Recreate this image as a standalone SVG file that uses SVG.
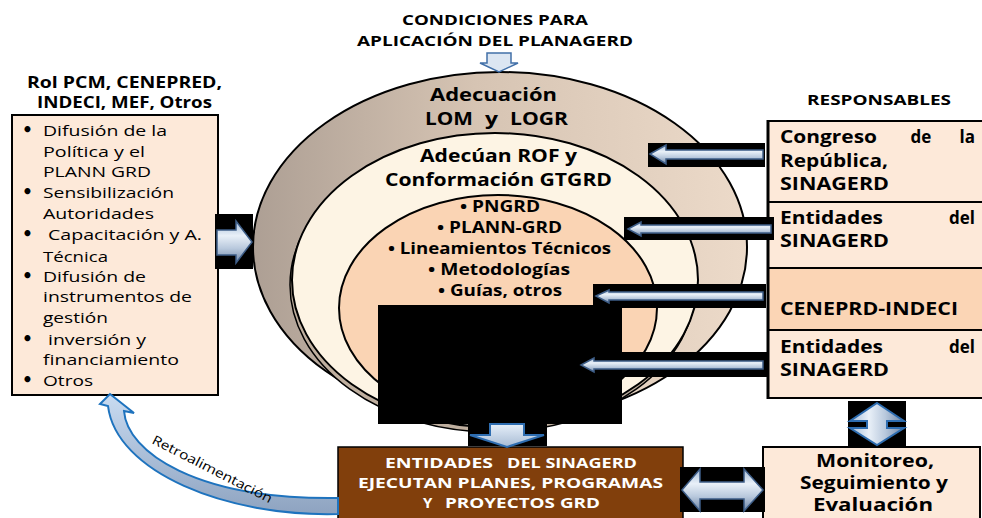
<svg xmlns="http://www.w3.org/2000/svg" width="982" height="518" viewBox="0 0 982 518">
<style>
.t{font-family:"Open Sans","Liberation Sans",sans-serif;fill:#000}
.b{font-weight:700}
.w{fill:#fff}
.box{fill:#FDE9D9;stroke:#000;stroke-width:2}
.blk{fill:#000}
.bul{font-family:"DejaVu Sans",sans-serif;font-size:17px;font-weight:700;fill:#000}
.arr{fill:url(#gH);stroke:#3E5E88;stroke-width:1.5;stroke-linejoin:miter}
.arrv{fill:url(#gV);stroke:#2E6DB0;stroke-width:2}
.el{stroke:#000;stroke-width:2}
</style>
<defs>
<linearGradient id="gOuter" x1="0" y1="0" x2="1" y2="0">
<stop offset="0" stop-color="#AD9F94"/><stop offset="0.45" stop-color="#D6C4B3"/><stop offset="1" stop-color="#ECDAC9"/>
</linearGradient>
<linearGradient id="gH" x1="0" y1="0" x2="0" y2="1">
<stop offset="0" stop-color="#A3BBD8"/><stop offset="0.35" stop-color="#E9F0F8"/><stop offset="0.65" stop-color="#B9C9DD"/><stop offset="1" stop-color="#6E86A6"/>
</linearGradient>
<linearGradient id="gV" x1="0" y1="0" x2="1" y2="0">
<stop offset="0" stop-color="#A3BBD8"/><stop offset="0.35" stop-color="#E9F0F8"/><stop offset="0.65" stop-color="#B9C9DD"/><stop offset="1" stop-color="#6E86A6"/>
</linearGradient>
<linearGradient id="gDown" x1="0" y1="0" x2="0" y2="1">
<stop offset="0" stop-color="#E6EFF9"/><stop offset="1" stop-color="#A7BBD4"/>
</linearGradient>
<linearGradient id="gRetro" x1="0" y1="0" x2="0" y2="1">
<stop offset="0" stop-color="#C9DBF1"/><stop offset="1" stop-color="#8EA3C0"/>
</linearGradient>
</defs>

<!-- top title -->
<g id="title">
<text class="t b" font-size="15" x="402" y="25" textLength="186" lengthAdjust="spacingAndGlyphs">CONDICIONES PARA</text>
<text class="t b" font-size="15" x="357" y="46" textLength="276" lengthAdjust="spacingAndGlyphs">APLICACIÓN DEL PLANAGERD</text>
</g>

<!-- nested ellipses -->
<g id="ellipses">
<ellipse class="el" cx="500" cy="247" rx="247" ry="175" fill="url(#gOuter)"/>
<ellipse cx="493" cy="285" rx="203" ry="147" fill="#BFAF9F" stroke="#000" stroke-width="1.5"/>
<ellipse class="el" cx="495" cy="280" rx="203" ry="147" fill="#FDF4E4"/>
<ellipse class="el" cx="498" cy="308" rx="159" ry="113" fill="#FAD4B4"/>
<text class="t b" font-size="17" x="430" y="101" textLength="127" lengthAdjust="spacingAndGlyphs">Adecuación</text>
<text class="t b" font-size="17" x="425" y="125" textLength="48" lengthAdjust="spacingAndGlyphs">LOM</text>
<text class="t b" font-size="17" x="485" y="125" textLength="13" lengthAdjust="spacingAndGlyphs">y</text>
<text class="t b" font-size="17" x="510" y="125" textLength="58" lengthAdjust="spacingAndGlyphs">LOGR</text>
<text class="t b" font-size="17" x="420" y="162" textLength="157" lengthAdjust="spacingAndGlyphs">Adecúan ROF y</text>
<text class="t b" font-size="17" x="385" y="186" textLength="227" lengthAdjust="spacingAndGlyphs">Conformación GTGRD</text>
<text class="t b" font-size="15.5" x="460" y="212" textLength="80" lengthAdjust="spacingAndGlyphs">• PNGRD</text>
<text class="t b" font-size="15.5" x="437" y="233" textLength="125" lengthAdjust="spacingAndGlyphs">• PLANN-GRD</text>
<text class="t b" font-size="15.5" x="388" y="254" textLength="223" lengthAdjust="spacingAndGlyphs">• Lineamientos Técnicos</text>
<text class="t b" font-size="15.5" x="428" y="275" textLength="142" lengthAdjust="spacingAndGlyphs">• Metodologías</text>
<text class="t b" font-size="15.5" x="438" y="296" textLength="124" lengthAdjust="spacingAndGlyphs">• Guías, otros</text>
</g>

<!-- left box -->
<g id="rol">
<text class="t b" font-size="16" x="27" y="88" textLength="195" lengthAdjust="spacingAndGlyphs">Rol PCM, CENEPRED,</text>
<text class="t b" font-size="16" x="37" y="108" textLength="175" lengthAdjust="spacingAndGlyphs">INDECI, MEF, Otros</text>
<rect class="box" x="12" y="115" width="206" height="280" stroke-width="2.5"/>
<g class="bul">
<text x="22" y="136">•</text>
<text x="22" y="198">•</text>
<text x="22" y="240">•</text>
<text x="22" y="282">•</text>
<text x="22" y="345">•</text>
<text x="22" y="386">•</text>
</g>
<g class="t" font-size="15">
<text x="43" y="136" textLength="124" lengthAdjust="spacingAndGlyphs">Difusión de la</text>
<text x="43" y="157" textLength="102" lengthAdjust="spacingAndGlyphs">Política y el</text>
<text x="43" y="177" textLength="108" lengthAdjust="spacingAndGlyphs">PLANN GRD</text>
<text x="43" y="198" textLength="131" lengthAdjust="spacingAndGlyphs">Sensibilización</text>
<text x="43" y="219" textLength="111" lengthAdjust="spacingAndGlyphs">Autoridades</text>
<text x="48" y="240" textLength="154" lengthAdjust="spacingAndGlyphs">Capacitación y A.</text>
<text x="43" y="262" textLength="65" lengthAdjust="spacingAndGlyphs">Técnica</text>
<text x="43" y="282" textLength="103" lengthAdjust="spacingAndGlyphs">Difusión de</text>
<text x="43" y="302" textLength="149" lengthAdjust="spacingAndGlyphs">instrumentos de</text>
<text x="43" y="323" textLength="65" lengthAdjust="spacingAndGlyphs">gestión</text>
<text x="48" y="345" textLength="98" lengthAdjust="spacingAndGlyphs">inversión y</text>
<text x="43" y="365" textLength="136" lengthAdjust="spacingAndGlyphs">financiamiento</text>
<text x="43" y="386" textLength="50" lengthAdjust="spacingAndGlyphs">Otros</text>
</g>
</g>

<!-- right column -->
<g id="responsables">
<text class="t b" font-size="14.5" x="807" y="105" textLength="144" lengthAdjust="spacingAndGlyphs">RESPONSABLES</text>
<rect x="768" y="121" width="230" height="81" fill="#FDE9D9" stroke="#000" stroke-width="2"/>
<rect x="768" y="202" width="230" height="66" fill="#FDE9D9" stroke="#000" stroke-width="2"/>
<rect x="768" y="268" width="230" height="62" fill="#FBD5B5" stroke="#000" stroke-width="2"/>
<rect x="768" y="330" width="230" height="68" fill="#FDE9D9" stroke="#000" stroke-width="2"/>
<line x1="768" y1="120" x2="768" y2="399" stroke="#000" stroke-width="3"/>
<g class="t b" font-size="17">
<text x="780" y="143" textLength="97" lengthAdjust="spacingAndGlyphs">Congreso</text>
<text x="921" y="143" text-anchor="middle">de</text>
<text x="975" y="143" text-anchor="end">la</text>
<text x="780" y="167" textLength="108" lengthAdjust="spacingAndGlyphs">República,</text>
<text x="780" y="190" textLength="109" lengthAdjust="spacingAndGlyphs">SINAGERD</text>
<text x="780" y="224" textLength="103" lengthAdjust="spacingAndGlyphs">Entidades</text>
<text x="975" y="224" text-anchor="end">del</text>
<text x="780" y="247" textLength="109" lengthAdjust="spacingAndGlyphs">SINAGERD</text>
<text x="780" y="315" textLength="178" lengthAdjust="spacingAndGlyphs">CENEPRD-INDECI</text>
<text x="780" y="353" textLength="103" lengthAdjust="spacingAndGlyphs">Entidades</text>
<text x="975" y="353" text-anchor="end">del</text>
<text x="780" y="376" textLength="109" lengthAdjust="spacingAndGlyphs">SINAGERD</text>
</g>
</g>

<!-- executing entities -->
<g id="entidades">
<rect x="338" y="447" width="345" height="80" fill="#813F0C" stroke="#000" stroke-width="1.5"/>
<g class="t b w" font-size="15">
<text x="385" y="468" textLength="108" lengthAdjust="spacingAndGlyphs">ENTIDADES</text>
<text x="507" y="468" textLength="130" lengthAdjust="spacingAndGlyphs">DEL SINAGERD</text>
<text x="358" y="488" textLength="305" lengthAdjust="spacingAndGlyphs">EJECUTAN PLANES, PROGRAMAS</text>
<text x="423" y="508">Y</text>
<text x="445" y="508" textLength="155" lengthAdjust="spacingAndGlyphs">PROYECTOS GRD</text>
</g>
</g>

<!-- monitoring -->
<g id="monitoreo">
<rect class="box" x="763" y="447" width="217" height="80"/>
<g class="t b" font-size="17">
<text x="816" y="467" textLength="118" lengthAdjust="spacingAndGlyphs">Monitoreo,</text>
<text x="800" y="489" textLength="148" lengthAdjust="spacingAndGlyphs">Seguimiento y</text>
<text x="813" y="511" textLength="120" lengthAdjust="spacingAndGlyphs">Evaluación</text>
</g>
</g>

<!-- connectors -->
<g id="connectors">
<polygon points="487,53 511,53 511,63 518,63 499,72 480,63 487,63" fill="#DCE6F2" stroke="#4270A8" stroke-width="1.5"/>

<rect class="blk" x="215" y="214" width="38" height="55"/>
<polygon class="arr" points="217,230 236,230 236,221 252,242 236,263 236,255 217,255" stroke="#2C3E5C" stroke-width="2"/>

<rect class="blk" x="648" y="143" width="117" height="24"/>
<polygon class="arr" points="650,154 666,145 666,150 763,150 763,159 666,159 666,164" stroke="#2468B4" stroke-width="2"/>

<rect class="blk" x="624" y="217" width="150" height="23"/>
<polygon class="arr" points="628,229 641,222 641,225 771,225 771,233 641,233 641,236"/>

<rect class="blk" x="593" y="284" width="173" height="24"/>
<polygon class="arr" points="596,296 609,290 609,292 763,292 763,300 609,300 609,303"/>

<rect class="blk" x="378" y="305" width="244" height="119"/>
<rect class="blk" x="578" y="352" width="189" height="25"/>
<polygon class="arr" points="581,365 594,358 594,361 763,361 763,369 594,369 594,372"/>

<rect class="blk" x="468" y="424" width="79" height="22"/>
<polygon points="490,424 524,424 524,435 544,435 507,447 470,435 490,435" fill="url(#gDown)" stroke="#2E6DB0" stroke-width="2"/>

<rect class="blk" x="680" y="467" width="85" height="45"/>
<polygon class="arr" points="682,490 700,469 700,482 744,482 744,469 763,490 744,511 744,499 700,499 700,511" stroke="#2E6DB0" stroke-width="2"/>

<rect class="blk" x="848" y="401" width="58" height="45"/>
<polygon class="arrv" points="877,403 904,421 887,421 887,428 904,428 877,445 850,428 867,428 867,421 850,421"/>

<path d="M110,394 L134,413 L124,411 C127,452 196,500 338,498 L338,514 C226,517 116,472 108,406 L100,404 Z" fill="url(#gRetro)" stroke="#1E73BE" stroke-width="2"/>
<text class="t" font-size="13" fill="#222" x="151" y="443" transform="rotate(27 151 443)" textLength="133" lengthAdjust="spacingAndGlyphs">Retroalimentación</text>
</g>
</svg>
